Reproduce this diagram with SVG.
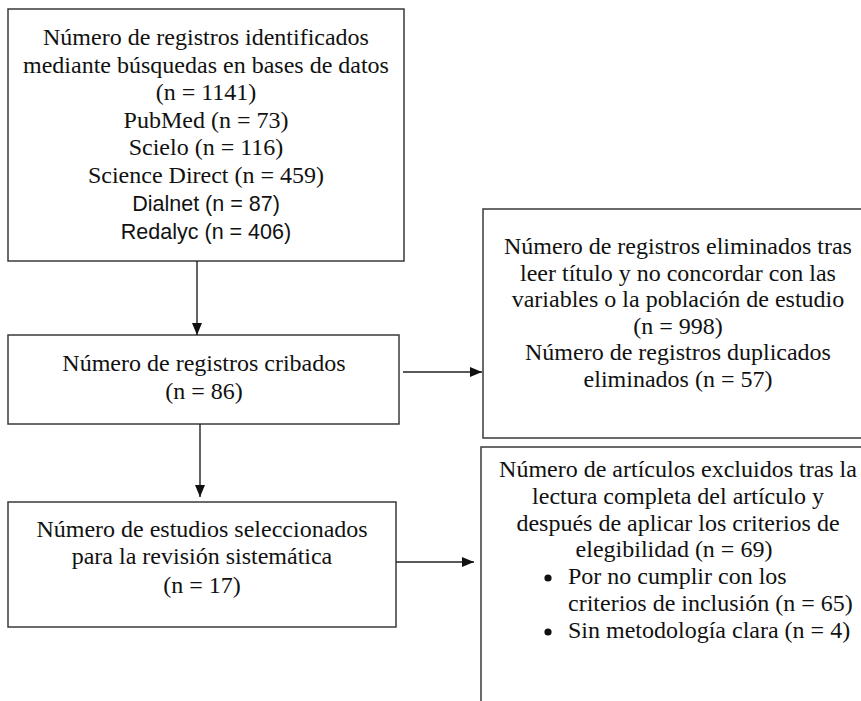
<svg xmlns="http://www.w3.org/2000/svg" width="861" height="701" viewBox="0 0 861 701">
<style>
  .box { fill: #ffffff; stroke: #3a3a3a; stroke-width: 1.5; }
  .t { font-family: "Liberation Serif", "Times New Roman", serif; font-size: 24px; fill: #111; text-anchor: middle; }
  .tl { font-family: "Liberation Serif", "Times New Roman", serif; font-size: 24px; fill: #111; text-anchor: start; }
  .s { font-family: "Liberation Sans", Arial, sans-serif; font-size: 21.5px; fill: #111; text-anchor: middle; }
  .conn { stroke: #222; stroke-width: 1.4; fill: none; marker-end: url(#arr); }
  .dot { fill: #111; }
</style>
<defs>
  <marker id="arr" markerUnits="userSpaceOnUse" markerWidth="12" markerHeight="12" viewBox="0 0 12 12" refX="12" refY="6" orient="auto">
    <path d="M0,1 L12,6 L0,11 Z" fill="#111"/>
  </marker>
</defs>
<rect width="861" height="701" fill="#ffffff"/>

<g id="identificados">
  <rect class="box" x="8" y="9" width="396" height="252"/>
  <text class="t" x="206" y="45">Número de registros identificados</text>
  <text class="t" x="206" y="73">mediante búsquedas en bases de datos</text>
  <text class="t" x="206" y="100">(n = 1141)</text>
  <text class="t" x="206" y="128">PubMed (n = 73)</text>
  <text class="t" x="206" y="155">Scielo (n = 116)</text>
  <text class="t" x="206" y="183">Science Direct (n = 459)</text>
  <text class="s" x="206" y="211">Dialnet (n = 87)</text>
  <text class="s" x="206" y="239">Redalyc (n = 406)</text>
</g>

<g id="cribados">
  <rect class="box" x="8" y="335" width="391" height="89"/>
  <text class="t" x="204" y="371">Número de registros cribados</text>
  <text class="t" x="204" y="399">(n = 86)</text>
</g>

<g id="seleccionados">
  <rect class="box" x="8" y="502" width="388" height="125"/>
  <text class="t" x="202" y="537">Número de estudios seleccionados</text>
  <text class="t" x="202" y="564">para la revisión sistemática</text>
  <text class="t" x="202" y="593">(n = 17)</text>
</g>

<g id="eliminados">
  <rect class="box" x="483" y="209" width="400" height="229"/>
  <text class="t" x="678" y="254">Número de registros eliminados tras</text>
  <text class="t" x="678" y="280.5">leer título y no concordar con las</text>
  <text class="t" x="678" y="307">variables o la población de estudio</text>
  <text class="t" x="678" y="333.5">(n = 998)</text>
  <text class="t" x="678" y="360">Número de registros duplicados</text>
  <text class="t" x="678" y="386.5">eliminados (n = 57)</text>
</g>

<g id="excluidos">
  <rect class="box" x="481" y="447" width="400" height="280"/>
  <text class="t" x="678" y="477">Número de artículos excluidos tras la</text>
  <text class="t" x="678" y="504">lectura completa del artículo y</text>
  <text class="t" x="678" y="531">después de aplicar los criterios de</text>
  <text class="t" x="674" y="557">elegibilidad (n = 69)</text>
  <circle class="dot" cx="548" cy="578" r="3.6"/>
  <text class="tl" x="568" y="584">Por no cumplir con los</text>
  <text class="tl" x="568" y="611">criterios de inclusión (n = 65)</text>
  <circle class="dot" cx="548" cy="632" r="3.6"/>
  <text class="tl" x="568" y="638">Sin metodología clara (n = 4)</text>
</g>

<g id="connectors">
  <line class="conn" x1="197" y1="261" x2="197" y2="335"/>
  <line class="conn" x1="200" y1="424" x2="200" y2="497"/>
  <line class="conn" x1="403" y1="372" x2="482" y2="372"/>
  <line class="conn" x1="396" y1="562" x2="474" y2="562"/>
</g>
</svg>
